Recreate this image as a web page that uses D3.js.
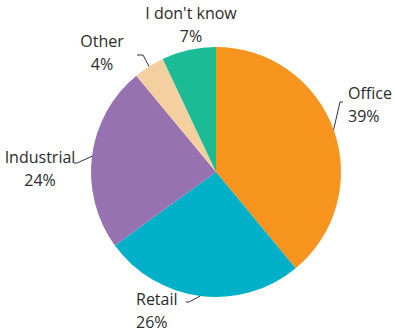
<!DOCTYPE html>
<html>
<head>
<meta charset="utf-8">
<script src="https://cdn.jsdelivr.net/npm/d3@7"></script>
<style>
  body { margin: 0; background: #fff; }
  text { font-family: "Open Sans", sans-serif; font-size: 16px; fill: #2b2b2b; }
</style>
</head>
<body>
<div id="chart"></div>
<script>
// data
var categories = ["Office", "Retail", "Industrial", "Other", "I don't know"];
var shares = [39, 26, 24, 4, 7];
var colours = ["#F7941E", "#00B0C8", "#9672B0", "#F4D0A0", "#1BBB96"];

// label placement (x, y of first line, anchor, elbow point, end of leader)
var labelLayout = {
  "Office":       { x: 348, y: 99,  anchor: "start",  elbow: [340, 102], end: [343, 102] },
  "Retail":       { x: 136, y: 305, anchor: "start",  elbow: [189, 302], end: [186, 302] },
  "Industrial":   { x: 40,  y: 163, anchor: "middle", elbow: [77, 163],  end: [74, 163] },
  "Other":        { x: 102, y: 47,  anchor: "middle", elbow: [143, 55],  end: [137, 55] },
  "I don't know": { x: 191, y: 19,  anchor: "middle", elbow: null,       end: null }
};

var width = 395, height = 332;
var cx = 216, cy = 172, radius = 125;

var rows = categories.map(function(c, i) {
  return { name: c, value: shares[i], colour: colours[i] };
});

var svg = d3.select("#chart").append("svg")
    .attr("width", width)
    .attr("height", height);

var pie = d3.pie()
    .sort(null)
    .value(function(d) { return d.value; });

var arc = d3.arc().innerRadius(0).outerRadius(radius);

var arcs = pie(rows);

var g = svg.append("g")
    .attr("transform", "translate(" + cx + "," + cy + ")");

g.selectAll("path")
    .data(arcs).enter()
    .append("path")
    .attr("d", arc)
    .attr("fill", function(d) { return d.data.colour; });

// leader lines start on the rim at the slice middle
arcs.forEach(function(d) {
  var lay = labelLayout[d.data.name];
  if (!lay.elbow) return;
  var mid = (d.startAngle + d.endAngle) / 2;
  var p0 = [cx + radius * Math.sin(mid), cy - radius * Math.cos(mid)];
  svg.append("polyline")
    .attr("points", [p0, lay.elbow, lay.end].map(function(p) { return p.join(","); }).join(" "))
    .attr("fill", "none")
    .attr("stroke", "#333")
    .attr("stroke-width", 1);
});

arcs.forEach(function(d) {
  var lay = labelLayout[d.data.name];
  var t = svg.append("text")
      .attr("text-anchor", lay.anchor);
  t.append("tspan").attr("x", lay.x).attr("y", lay.y).text(d.data.name);
  t.append("tspan").attr("x", lay.x).attr("y", lay.y + 23).text(d.data.value + "%");
});
</script>
</body>
</html>
